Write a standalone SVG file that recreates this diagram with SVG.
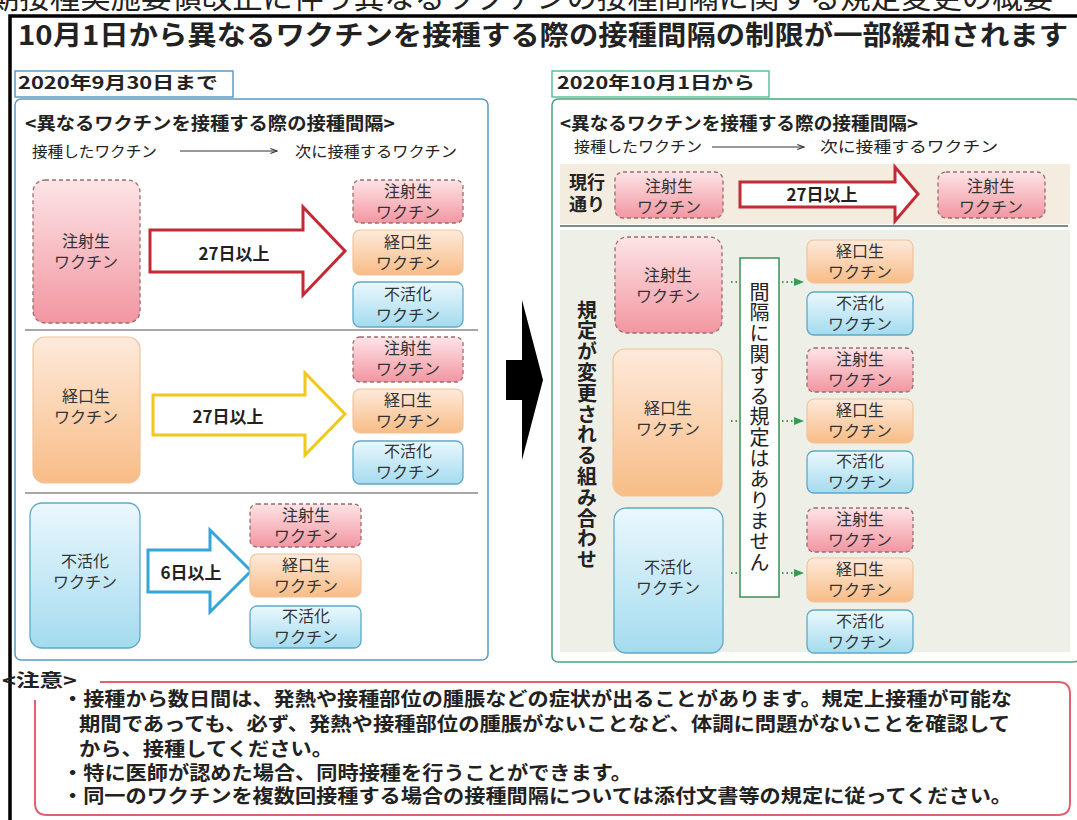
<svg xmlns="http://www.w3.org/2000/svg" width="1077" height="820" viewBox="0 0 1077 820">
<defs>
  <linearGradient id="gPink" x1="0" y1="0" x2="0" y2="1"><stop offset="0" stop-color="#fde4e6"/><stop offset="1" stop-color="#f296a1"/></linearGradient>
  <linearGradient id="gOrange" x1="0" y1="0" x2="0" y2="1"><stop offset="0" stop-color="#feeadb"/><stop offset="1" stop-color="#f8bc86"/></linearGradient>
  <linearGradient id="gBlue" x1="0" y1="0" x2="0" y2="1"><stop offset="0" stop-color="#eaf8fd"/><stop offset="1" stop-color="#a4dbef"/></linearGradient>
  <marker id="ahG" viewBox="0 0 10 10" refX="9" refY="5" markerWidth="5" markerHeight="5" orient="auto"><path d="M0,1 L10,5 L0,9 z" fill="#3a9a50"/></marker>
  <marker id="ahK" viewBox="0 0 10 10" refX="9" refY="5" markerWidth="7" markerHeight="7" orient="auto"><path d="M1,2 L9,5 L1,8" fill="none" stroke="#333" stroke-width="1.2"/></marker>
</defs>
<style>
  text{font-family:"Noto Sans CJK JP","Noto Sans CJK SC",sans-serif;fill:#222}
  .b{font-weight:700}
  .bx{font-size:16px;fill:#333;text-anchor:middle}
  .pink{fill:url(#gPink);stroke:#9c6b6e;stroke-width:1.3;stroke-dasharray:4 3}
  .orange{fill:url(#gOrange);stroke:#efc39c;stroke-width:1.2}
  .blue{fill:url(#gBlue);stroke:#5fa9c6;stroke-width:1.3}
  .sep{stroke:#8a8a8a;stroke-width:1.5}
  .dot{stroke:#3a9a50;stroke-width:2;stroke-dasharray:1.5 3;fill:none}
  .nt{font-size:19px;font-weight:700}
</style>
<rect width="1077" height="820" fill="#fff"/>

<!-- cut-off top title -->
<text x="-11" y="8" font-size="30" textLength="1064" lengthAdjust="spacingAndGlyphs">期接種実施要領改正に伴う異なるワクチンの接種間隔に関する規定変更の概要</text>

<!-- outer frame -->
<rect x="10" y="16" width="1080" height="820" fill="none" stroke="#000" stroke-width="3.5"/>
<text x="18" y="45" font-size="27" class="b" textLength="1050" lengthAdjust="spacingAndGlyphs">10月1日から異なるワクチンを接種する際の接種間隔の制限が一部緩和されます</text>

<!-- LEFT SECTION -->
<g id="left-panel">
  <rect x="15" y="71" width="218" height="26" fill="#fff" stroke="#5b9bc3" stroke-width="1.5"/>
  <text x="18" y="89" font-size="17" class="b" textLength="200" lengthAdjust="spacingAndGlyphs">2020年9月30日まで</text>
  <rect x="15" y="99" width="473" height="561" rx="6" fill="#fff" stroke="#5b9bc3" stroke-width="1.5"/>
  <text x="25" y="130" font-size="18" class="b" textLength="370" lengthAdjust="spacingAndGlyphs">&lt;異なるワクチンを接種する際の接種間隔&gt;</text>
  <text x="32" y="157" font-size="15" fill="#333" textLength="125" lengthAdjust="spacingAndGlyphs">接種したワクチン</text>
  <line x1="180" y1="151" x2="277" y2="151" stroke="#333" stroke-width="1.2" marker-end="url(#ahK)"/>
  <text x="295" y="157" font-size="15" fill="#333" textLength="162" lengthAdjust="spacingAndGlyphs">次に接種するワクチン</text>
  <line class="sep" x1="25" y1="330" x2="478" y2="330"/>
  <line class="sep" x1="25" y1="493" x2="478" y2="493"/>
</g>

<g id="L1-src"><rect class="pink" x="33" y="180" width="107" height="143" rx="12"/><text class="bx"><tspan x="86" y="247">注射生</tspan><tspan x="86" y="268">ワクチン</tspan></text></g>
<g id="L1-arrow"><path d="M150,230 H303 V207 L345,251 L303,295 V272 H150 Z" fill="#fff" stroke="#c22a35" stroke-width="3"/><text x="234" y="260" font-size="17" class="b" text-anchor="middle">27日以上</text></g>
<g id="L1-t1"><rect class="pink" x="353" y="180" width="110" height="43" rx="7"/><text class="bx"><tspan x="408" y="197">注射生</tspan><tspan x="408" y="218">ワクチン</tspan></text></g>
<g id="L1-t2"><rect class="orange" x="353" y="230" width="110" height="45" rx="7"/><text class="bx"><tspan x="408" y="248">経口生</tspan><tspan x="408" y="269">ワクチン</tspan></text></g>
<g id="L1-t3"><rect class="blue" x="353" y="282" width="110" height="45" rx="7"/><text class="bx"><tspan x="408" y="300">不活化</tspan><tspan x="408" y="321">ワクチン</tspan></text></g>

<g id="L2-src"><rect class="orange" x="33" y="337" width="107" height="146" rx="12"/><text class="bx"><tspan x="86" y="402">経口生</tspan><tspan x="86" y="423">ワクチン</tspan></text></g>
<g id="L2-arrow"><path d="M153,395 H305 V373 L345,414 L305,455 V435 H153 Z" fill="#fff" stroke="#f2c81a" stroke-width="3"/><text x="228" y="423" font-size="17" class="b" text-anchor="middle">27日以上</text></g>
<g id="L2-t1"><rect class="pink" x="353" y="337" width="110" height="45" rx="7"/><text class="bx"><tspan x="408" y="354">注射生</tspan><tspan x="408" y="375">ワクチン</tspan></text></g>
<g id="L2-t2"><rect class="orange" x="353" y="389" width="110" height="44" rx="7"/><text class="bx"><tspan x="408" y="406">経口生</tspan><tspan x="408" y="427">ワクチン</tspan></text></g>
<g id="L2-t3"><rect class="blue" x="353" y="441" width="110" height="43" rx="7"/><text class="bx"><tspan x="408" y="457">不活化</tspan><tspan x="408" y="478">ワクチン</tspan></text></g>

<g id="L3-src"><rect class="blue" x="30" y="503" width="110" height="145" rx="12"/><text class="bx"><tspan x="85" y="567">不活化</tspan><tspan x="85" y="588">ワクチン</tspan></text></g>
<g id="L3-arrow"><path d="M148,550 H210 V530 L251,571 L210,612 V592 H148 Z" fill="#fff" stroke="#35a6d8" stroke-width="3"/><text x="191" y="579" font-size="17" class="b" text-anchor="middle">6日以上</text></g>
<g id="L3-t1"><rect class="pink" x="250" y="504" width="111" height="43" rx="7"/><text class="bx"><tspan x="306" y="521">注射生</tspan><tspan x="306" y="542">ワクチン</tspan></text></g>
<g id="L3-t2"><rect class="orange" x="250" y="554" width="111" height="43" rx="7"/><text class="bx"><tspan x="306" y="571">経口生</tspan><tspan x="306" y="592">ワクチン</tspan></text></g>
<g id="L3-t3"><rect class="blue" x="250" y="606" width="111" height="42" rx="7"/><text class="bx"><tspan x="306" y="622">不活化</tspan><tspan x="306" y="643">ワクチン</tspan></text></g>

<!-- middle black arrow -->
<g id="big-arrow"><path d="M506,360 H522 V300 L543,380 L522,460 V400 H506 Z" fill="#000"/></g>

<!-- RIGHT SECTION -->
<g id="right-panel">
  <rect x="552" y="71" width="217" height="26" fill="#fff" stroke="#5cbf9a" stroke-width="1.5"/>
  <text x="557" y="89" font-size="17" class="b" textLength="198" lengthAdjust="spacingAndGlyphs">2020年10月1日から</text>
  <rect x="552" y="99" width="528" height="563" rx="6" fill="#fff" stroke="#4aa57a" stroke-width="1.5"/>
  <text x="560" y="130" font-size="18" class="b" textLength="358" lengthAdjust="spacingAndGlyphs">&lt;異なるワクチンを接種する際の接種間隔&gt;</text>
  <text x="574" y="152" font-size="15" fill="#333" textLength="128" lengthAdjust="spacingAndGlyphs">接種したワクチン</text>
  <line x1="712" y1="147" x2="804" y2="147" stroke="#333" stroke-width="1.2" marker-end="url(#ahK)"/>
  <text x="820" y="152" font-size="15" fill="#333" textLength="178" lengthAdjust="spacingAndGlyphs">次に接種するワクチン</text>
  <rect x="560" y="164" width="510" height="60" fill="#f3ecdf"/>
  <line x1="560" y1="226" x2="1068" y2="226" stroke="#4d6a5c" stroke-width="1.5"/>
  <rect x="560" y="230" width="510" height="422" fill="#eef0e7"/>
  <text x="587" y="300" font-size="20" class="b" style="writing-mode:vertical-rl" letter-spacing="0.8">規定が変更される組み合わせ</text>
</g>

<g id="R0-label"><text font-size="18" class="b"><tspan x="569" y="189">現行</tspan><tspan x="569" y="211">通り</tspan></text></g>
<g id="R0-src"><rect class="pink" x="615" y="172" width="108" height="46" rx="8"/><text class="bx"><tspan x="669" y="192">注射生</tspan><tspan x="669" y="213">ワクチン</tspan></text></g>
<g id="R0-arrow"><path d="M740,182 H895 V167 L918,194 L895,221 V207 H740 Z" fill="#fff" stroke="#c22a35" stroke-width="3"/><text x="822" y="201" font-size="17" class="b" text-anchor="middle">27日以上</text></g>
<g id="R0-t"><rect class="pink" x="938" y="172" width="107" height="46" rx="8"/><text class="bx"><tspan x="991" y="192">注射生</tspan><tspan x="991" y="213">ワクチン</tspan></text></g>

<g id="R-note"><rect x="740" y="258" width="39" height="339" fill="#fff" stroke="#3c8f55" stroke-width="1.5"/><text x="759.5" y="282" font-size="20" style="writing-mode:vertical-rl" letter-spacing="0.8" fill="#222">間隔に関する規定はありません</text></g>

<g id="R1-src"><rect class="pink" x="615" y="237" width="107" height="96" rx="12"/><text class="bx"><tspan x="668" y="281">注射生</tspan><tspan x="668" y="302">ワクチン</tspan></text></g>
<g id="R1-t2"><rect class="orange" x="807" y="240" width="106" height="43" rx="7"/><text class="bx"><tspan x="860" y="257">経口生</tspan><tspan x="860" y="278">ワクチン</tspan></text></g>
<g id="R1-t3"><rect class="blue" x="807" y="292" width="106" height="43" rx="7"/><text class="bx"><tspan x="860" y="309">不活化</tspan><tspan x="860" y="330">ワクチン</tspan></text></g>

<g id="R2-src"><rect class="orange" x="613" y="349" width="109" height="147" rx="12"/><text class="bx"><tspan x="668" y="414">経口生</tspan><tspan x="668" y="435">ワクチン</tspan></text></g>
<g id="R2-t1"><rect class="pink" x="807" y="348" width="106" height="44" rx="7"/><text class="bx"><tspan x="860" y="365">注射生</tspan><tspan x="860" y="386">ワクチン</tspan></text></g>
<g id="R2-t2"><rect class="orange" x="807" y="399" width="106" height="44" rx="7"/><text class="bx"><tspan x="860" y="416">経口生</tspan><tspan x="860" y="437">ワクチン</tspan></text></g>
<g id="R2-t3"><rect class="blue" x="807" y="451" width="106" height="42" rx="7"/><text class="bx"><tspan x="860" y="467">不活化</tspan><tspan x="860" y="488">ワクチン</tspan></text></g>

<g id="R3-src"><rect class="blue" x="614" y="508" width="109" height="145" rx="12"/><text class="bx"><tspan x="668" y="573">不活化</tspan><tspan x="668" y="594">ワクチン</tspan></text></g>
<g id="R3-t1"><rect class="pink" x="807" y="508" width="106" height="44" rx="7"/><text class="bx"><tspan x="860" y="525">注射生</tspan><tspan x="860" y="546">ワクチン</tspan></text></g>
<g id="R3-t2"><rect class="orange" x="807" y="558" width="106" height="44" rx="7"/><text class="bx"><tspan x="860" y="575">経口生</tspan><tspan x="860" y="596">ワクチン</tspan></text></g>
<g id="R3-t3"><rect class="blue" x="807" y="610" width="106" height="43" rx="7"/><text class="bx"><tspan x="860" y="627">不活化</tspan><tspan x="860" y="648">ワクチン</tspan></text></g>

<g id="connectors">
  <line class="dot" x1="731" y1="282" x2="740" y2="282"/>
  <line class="dot" x1="782" y1="282" x2="803" y2="282" marker-end="url(#ahG)"/>
  <line class="dot" x1="731" y1="421" x2="740" y2="421"/>
  <line class="dot" x1="782" y1="421" x2="803" y2="421" marker-end="url(#ahG)"/>
  <line class="dot" x1="731" y1="573" x2="740" y2="573"/>
  <line class="dot" x1="782" y1="573" x2="803" y2="573" marker-end="url(#ahG)"/>
</g>

<!-- NOTES -->
<g id="notes">
  <text x="2" y="687" font-size="18" class="b" textLength="75" lengthAdjust="spacingAndGlyphs">&lt;注意&gt;</text>
  <path d="M100,682 H1058 Q1070,682 1070,694 V803 Q1070,815 1058,815 H47 Q35,815 35,803 V700" fill="none" stroke="#e2606f" stroke-width="2"/>
  <text x="62" y="706" class="nt" textLength="950" lengthAdjust="spacingAndGlyphs">・接種から数日間は、発熱や接種部位の腫脹などの症状が出ることがあります。規定上接種が可能な</text>
  <text x="79" y="731" class="nt" textLength="931" lengthAdjust="spacingAndGlyphs">期間であっても、必ず、発熱や接種部位の腫脹がないことなど、体調に問題がないことを確認して</text>
  <text x="79" y="756" class="nt" textLength="254" lengthAdjust="spacingAndGlyphs">から、接種してください。</text>
  <text x="62" y="780" class="nt" textLength="570" lengthAdjust="spacingAndGlyphs">・特に医師が認めた場合、同時接種を行うことができます。</text>
  <text x="62" y="803" class="nt" textLength="950" lengthAdjust="spacingAndGlyphs">・同一のワクチンを複数回接種する場合の接種間隔については添付文書等の規定に従ってください。</text>
</g>
</svg>
